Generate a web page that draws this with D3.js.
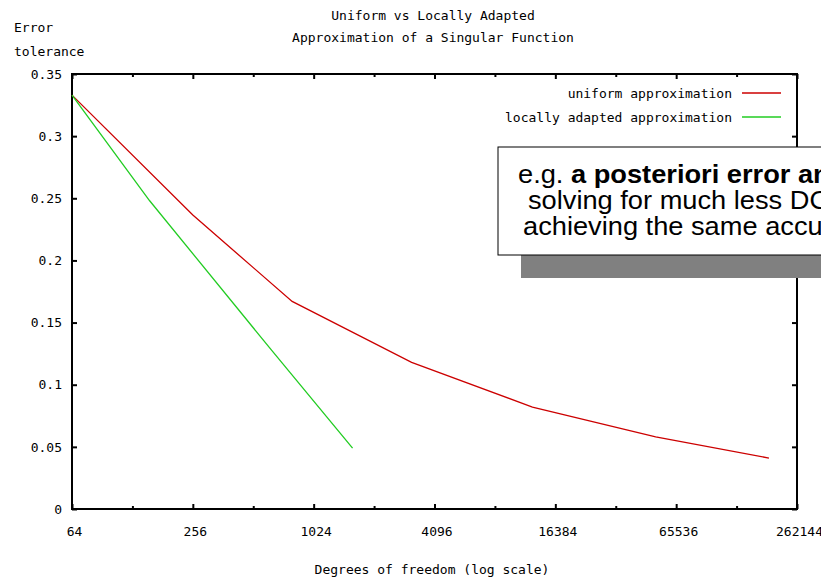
<!DOCTYPE html>
<html>
<head>
<meta charset="utf-8">
<script src="https://cdn.jsdelivr.net/npm/d3@7"></script>
<style>
  body { margin: 0; background: #fff; }
  svg { display: block; }
  text { font-family: "DejaVu Sans Mono", "Liberation Mono", monospace; font-size: 13px; fill: #000; }
  .note text { font-family: "Liberation Sans", Arial, sans-serif; font-size: 25px; }
</style>
</head>
<body>
<svg width="821" height="579"></svg>
<script>
// degrees of freedom vs error tolerance
var uniformDof   = [64, 256, 800, 3150, 12600, 51800, 190000];
var uniformErr   = [0.333, 0.2365, 0.167, 0.118, 0.082, 0.058, 0.041];
var adaptedDof   = [64, 156, 630, 1600];
var adaptedErr   = [0.333, 0.248, 0.128, 0.049];

var xMajor = [64, 256, 1024, 4096, 16384, 65536, 262144];
var xMinor = [128, 512, 2048, 8192, 32768, 131072];
var yTicks = [0, 0.05, 0.1, 0.15, 0.2, 0.25, 0.3, 0.35];
var yLabels = ["0", "0.05", "0.1", "0.15", "0.2", "0.25", "0.3", "0.35"];

var seriesNames = ["uniform approximation", "locally adapted approximation"];
var seriesColors = ["#cc0000", "#22cc22"];

var noteLines = [
  [["e.g. ", false], ["a posteriori error analysis", true]],
  [["solving for much less DOFs", false]],
  [["achieving the same accuracy", false]]
];

var svg = d3.select("svg");

// plot area (window.top is reserved, so no bare "top")
var plotL = 72, plotR = 797, plotT = 74, plotB = 509;

var x = d3.scaleLog().base(2).domain([64, 262144]).range([plotL, plotR]);
var y = d3.scaleLinear().domain([0, 0.35]).range([plotB, plotT]);

//////////// TITLES ////////////
svg.append("text").attr("x", 433).attr("y", 15).attr("dy", "0.35em")
  .attr("text-anchor", "middle").text("Uniform vs Locally Adapted");
svg.append("text").attr("x", 433).attr("y", 37).attr("dy", "0.35em")
  .attr("text-anchor", "middle").text("Approximation of a Singular Function");
svg.append("text").attr("x", 14).attr("y", 27).attr("dy", "0.35em").text("Error");
svg.append("text").attr("x", 14).attr("y", 51).attr("dy", "0.35em").text("tolerance");
svg.append("text").attr("x", 432).attr("y", 569).attr("dy", "0.35em")
  .attr("text-anchor", "middle").text("Degrees of freedom (log scale)");

//////////// AXES ////////////
var fmtY = function(d) { return yLabels[yTicks.indexOf(d)]; };

var bottomAxis = svg.append("g").attr("transform", "translate(0," + plotB + ")")
  .call(d3.axisBottom(x).tickValues(xMajor).tickSize(-5).tickPadding(18)
    .tickFormat(d3.format("d")));
bottomAxis.selectAll("text").attr("dx", 2);
svg.append("g").attr("transform", "translate(0," + plotB + ")")
  .call(d3.axisBottom(x).tickValues(xMinor).tickSize(-3).tickFormat(""));
svg.append("g").attr("transform", "translate(0," + plotT + ")")
  .call(d3.axisTop(x).tickValues(xMajor).tickSize(-5).tickFormat(""));
svg.append("g").attr("transform", "translate(0," + plotT + ")")
  .call(d3.axisTop(x).tickValues(xMinor).tickSize(-3).tickFormat(""));

svg.append("g").attr("transform", "translate(" + plotL + ",0)")
  .call(d3.axisLeft(y).tickValues(yTicks).tickSize(-5).tickPadding(10).tickFormat(fmtY));
svg.append("g").attr("transform", "translate(" + plotR + ",0)")
  .call(d3.axisRight(y).tickValues(yTicks).tickSize(-5).tickFormat(""));

svg.selectAll(".domain").remove();
svg.selectAll(".tick line").attr("stroke", "#000").attr("stroke-width", 2);
svg.selectAll(".tick text")
  .style("font-family", "'DejaVu Sans Mono', monospace").style("font-size", "13px");

svg.append("rect")
  .attr("x", plotL).attr("y", plotT)
  .attr("width", plotR - plotL).attr("height", plotB - plotT)
  .attr("fill", "none").attr("stroke", "#000").attr("stroke-width", 2);

//////////// LINES ////////////
var line = d3.line()
  .x(function(d) { return x(d[0]); })
  .y(function(d) { return y(d[1]); });

var series = [d3.zip(uniformDof, uniformErr), d3.zip(adaptedDof, adaptedErr)];

series.forEach(function(s, i) {
  svg.append("path").datum(s)
    .attr("d", line)
    .attr("fill", "none")
    .attr("stroke", seriesColors[i])
    .attr("stroke-width", 1.3);
});

//////////// LEGEND ////////////
seriesNames.forEach(function(name, i) {
  var ly = 93 + i * 24;
  svg.append("text").attr("x", 732).attr("y", ly).attr("dy", "0.35em")
    .attr("text-anchor", "end").text(name);
  svg.append("line").attr("x1", 742).attr("x2", 781).attr("y1", ly).attr("y2", ly)
    .attr("stroke", seriesColors[i]).attr("stroke-width", 1.3);
});

//////////// NOTE BOX ////////////
var note = svg.append("g").attr("class", "note");
note.append("rect").attr("x", 521).attr("y", 255).attr("width", 320).attr("height", 23)
  .attr("fill", "#808080");
note.append("rect").attr("x", 498).attr("y", 147).attr("width", 340).attr("height", 108)
  .attr("fill", "#fff").attr("stroke", "#000").attr("stroke-width", 1);

// the slide text is a little wider than plain Arial
var noteX = [518, 528, 523];
noteLines.forEach(function(parts, i) {
  var t = note.append("text")
    .attr("transform", "translate(" + noteX[i] + "," + (183 + i * 26) + ") scale(1.09,1)");
  parts.forEach(function(p) {
    t.append("tspan").attr("font-weight", p[1] ? "bold" : "normal").text(p[0]);
  });
});
</script>
</body>
</html>
